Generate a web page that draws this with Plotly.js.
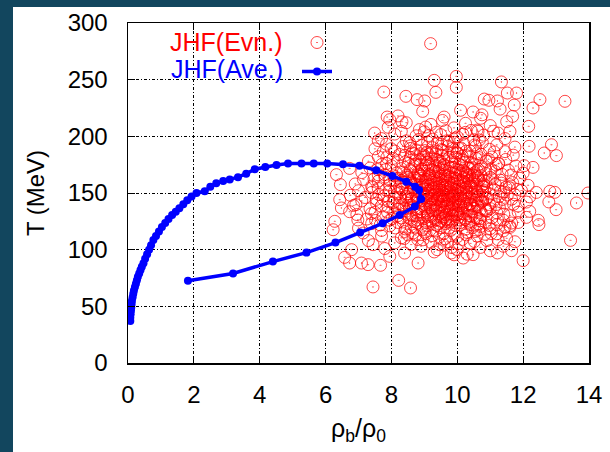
<!DOCTYPE html>
<html><head><meta charset="utf-8">
<script src="https://cdn.plot.ly/plotly-3.0.1.min.js"></script>
<style>
html,body{margin:0;padding:0;background:#12465e;width:610px;height:452px;overflow:hidden}
#chart{position:absolute;left:13px;top:7px;width:597px;height:445px;background:#fff}
</style>
</head><body><div id="chart"></div>
<script>
// Axis ticks
const xTicks = [0, 2, 4, 6, 8, 10, 12, 14];
const yTicks = [0, 50, 100, 150, 200, 250, 300];
const seriesNames = ['JHF(Evn.)', 'JHF(Ave.)'];

// JHF(Ave.) : averaged trajectory (rho_b/rho_0, T [MeV])
const aveRho = [1.82,3.19,4.40,5.42,6.30,7.05,7.73,8.25,8.71,8.90,8.84,8.72,8.45,8.03,7.54,7.03,6.53,6.05,5.64,5.27,4.86,4.51,4.17,3.85,3.59,3.34,3.09,2.89,2.68,2.50,2.33,2.08,1.93,1.80,1.68,1.56,1.45,1.34,1.23,1.13,1.03,0.94,0.85,0.77,0.70,0.64,0.58,0.52,0.47,0.42,0.38,0.34,0.30,0.27,0.24,0.21,0.18,0.16,0.14,0.12,0.11,0.10,0.09,0.08,0.07,0.07];
const aveT   = [72.5,79,89.5,97.4,106.3,115.2,123.2,130.6,138,144.6,152.6,155.5,160,165,170,174,175.3,176,176,176,176,174.7,173,171,167,164,162,160.6,158.5,155.5,151.5,150,147,143.5,140,136.5,133.5,130.5,127,123.5,120,116,112,108.5,104,100,96,92,88,85,82,79,76,73,70,67,64,61,58,55,52,49,46,43,40,37];

// JHF(Evn.) : event-by-event points, outer (individually readable) circles
const evnOuter = [
[9.19,281.8],[9.97,252.9],[9.30,249.4],[9.97,243.2],[9.35,238.8],[7.77,239.1],[8.44,235.3],[8.78,232.4],[9.01,231.2],
[11.34,248],[11.52,238.2],[11.80,238.2],[10.82,232.9],[10.96,231.8],[11.22,231.2],[11.73,227.6],[11.68,217.6],[12.51,232.4],
[12.30,225],[13.27,230.9],[10.48,221.5],[10.71,215.9],[7.87,217],[7.95,214.7],[8.32,212.9],[9.04,208.2],[12.17,208.8],
[11.60,204.4],[11.24,202.9],[7.49,202.9],[10.63,204.4],[12.86,192.6],[12.64,185.3],[13.01,183],[12.18,191.2],[12.30,172.6],
[12.03,174.1],[13.97,150],[13.62,141.2],[12.78,142.1],[13.0,135.3],[12.81,151.5],[12.96,150.6],[12.46,125.9],[12.48,122.1],
[13.44,108.2],[12.0,90.3],[11.65,99.1],[11.22,97.1],[10.48,95.6],[10.18,92.6],[9.82,97.1],[9.39,100],[8.81,88.2],
[7.67,86.2],[8.22,72.9],[7.44,67.1],[8.58,66.2],[7.29,86.8],[7.09,88.2],[6.73,88.2],[6.58,93.2],[6.79,100],[7.95,94.1],
[6.33,166.2],[6.45,157.4],[6.43,144.1],[6.48,136.8],[6.92,139.7],[6.28,125],[6.23,117.6],[11.60,119.7],[11.24,108.8],
[11.65,123.5],[12.20,133.8],[7.44,104.4],[7.14,114.7],[6.73,171.7],[6.73,133.5],[6.98,126.2]
];

// JHF(Evn.) : core, estimated band by band
const evnCoreLow = [
[7.8,101],[8.4,97],[8.9,103],[9.3,98],[9.6,104],[10.0,100],[10.3,96],[10.7,102],[11.0,99],[8.6,104.5],[9.9,95.5],[11.4,103],
[7.3,108],[7.7,112],[8.1,106],[8.5,113],[8.8,109],[9.05,114],[9.2,106.5],[9.45,111],[9.7,107],[9.9,113.5],[10.15,109],[10.4,105.5],
[10.6,112],[10.9,108],[11.2,114],[11.5,110],[8.3,110.5],[9.6,114.5],[10.05,105.5],[11.75,107],
[7.0,119],[7.4,123],[7.7,117],[7.95,121],[8.2,124],[8.4,116],[8.6,120],[8.8,123.5],[8.95,117.5],[9.1,121],[9.25,124.5],[9.35,116.5],
[9.5,119.5],[9.65,123],[9.8,117],[9.95,121.5],[10.1,124],[10.25,118],[10.4,122],[10.55,116],[10.7,120.5],[10.85,124.5],[11.0,118.5],
[11.2,122],[11.4,116.5],[11.6,121],[11.85,124],[9.0,115.5],[9.7,125],[10.3,115.2],
[6.95,131],[7.25,127],[7.5,133],[7.75,129],[7.95,126],[8.1,132.5],[8.3,128],[8.45,134],[8.6,126.5],[8.75,130.5],[8.9,133.5],[9.0,127.5],
[9.12,131],[9.25,134.5],[9.35,126],[9.45,129.5],[9.55,133],[9.65,127],[9.75,131.5],[9.85,125.5],[9.95,134],[10.05,128.5],[10.15,132],
[10.25,126.5],[10.35,130],[10.45,133.5],[10.6,127.5],[10.75,131],[10.9,134.5],[11.05,128],[11.2,132.5],[11.4,126],[11.6,130],[11.85,133],
[12.1,128.5],[8.2,130],[9.5,125.3],[10.0,130.8],[10.7,125.5],[9.2,129]
];
const evnCoreMid = [
[6.85,139],[7.1,143],[7.35,136],[7.55,141],[7.75,144.5],[7.9,137.5],[8.05,141.5],[8.2,135.5],[8.32,139.5],[8.45,143.5],[8.55,137],[8.68,141],
[8.8,144],[8.9,136],[9.0,140],[9.08,143.5],[9.17,137.5],[9.26,141.5],[9.35,135.2],[9.43,139],[9.52,142.5],[9.6,136.5],[9.68,140.5],[9.77,144.5],
[9.85,137.5],[9.93,141.5],[10.02,135.5],[10.1,139.5],[10.2,143],[10.3,136.5],[10.4,140.5],[10.5,144],[10.62,138],[10.74,142],[10.86,135.8],
[10.98,139.8],[11.12,143.5],[11.28,137],[11.45,141],[11.65,144.5],[11.85,138.5],[12.1,142],[8.6,144.8],[9.4,144.2],[10.25,138.2],[11.0,136.2],
[9.7,138.3],[8.1,138.8],
[6.75,148],[7.0,152],[7.2,146],[7.4,150.5],[7.6,154],[7.78,147.5],[7.93,151.5],[8.08,145.5],[8.2,149.5],[8.33,153.5],[8.45,147],[8.57,151],
[8.68,154.5],[8.78,146],[8.88,150],[8.97,153.5],[9.06,147.5],[9.14,151.5],[9.22,145.3],[9.3,149],[9.38,152.8],[9.46,146.5],[9.54,150.5],
[9.62,154.2],[9.7,148],[9.78,151.8],[9.86,145.8],[9.94,149.6],[10.02,153.4],[10.1,147.2],[10.18,151],[10.27,154.8],[10.36,146.4],[10.45,150.2],
[10.55,153.8],[10.65,147.6],[10.76,151.4],[10.88,145.2],[11.0,149.2],[11.13,153],[11.27,146.8],[11.42,150.8],[11.58,154.6],[11.75,148.4],
[11.95,152.2],[12.2,146.6],[12.4,150.5],[8.5,149.2],[9.25,154.6],[9.9,146.9],[10.6,150.9],[9.5,148.3],
[6.9,158],[7.15,162],[7.4,156],[7.6,160.5],[7.8,164],[7.95,157.5],[8.1,161.5],[8.25,155.5],[8.38,159.5],[8.5,163.5],[8.62,157],[8.73,161],
[8.84,164.5],[8.94,156],[9.03,160],[9.12,163.5],[9.2,157.5],[9.29,161.5],[9.38,155.3],[9.47,159],[9.56,162.8],[9.65,156.5],[9.74,160.5],
[9.83,164.2],[9.92,158],[10.01,161.8],[10.1,155.8],[10.2,159.6],[10.3,163.4],[10.4,157.2],[10.5,161],[10.62,164.8],[10.74,156.4],[10.87,160.2],
[11.0,163.8],[11.15,157.6],[11.3,161.4],[11.48,155.2],[11.68,159.2],[11.9,163],[12.15,156.8],[8.3,160.8],[9.1,156.4],[9.8,157.2],[10.45,164.2],
[9.5,164.6],[10.9,155.6],[9.35,160.4]
];
const evnCoreHigh = [
[7.1,168],[7.35,172],[7.6,166],[7.82,170.5],[8.0,174],[8.15,167.5],[8.3,171.5],[8.45,165.5],[8.58,169.5],[8.7,173.5],[8.82,167],[8.93,171],
[9.04,174.5],[9.14,166],[9.24,170],[9.34,173.5],[9.44,167.5],[9.54,171.5],[9.64,165.3],[9.74,169],[9.84,172.8],[9.94,166.5],[10.04,170.5],
[10.14,174.2],[10.25,168],[10.36,171.8],[10.48,165.8],[10.6,169.6],[10.73,173.4],[10.87,167.2],[11.02,171],[11.18,174.8],[11.36,166.4],
[11.55,170.2],[11.78,173.8],[12.0,167.6],[8.9,165.2],[9.6,174.6],[10.3,165.4],[9.0,169.2],
[7.3,178],[7.6,182],[7.85,176],[8.05,180.5],[8.25,184],[8.42,177.5],[8.58,181.5],[8.72,175.5],[8.86,179.5],[8.98,183.5],[9.1,177],[9.22,181],
[9.34,184.5],[9.46,176],[9.58,180],[9.7,183.5],[9.82,177.5],[9.94,181.5],[10.06,175.3],[10.18,179],[10.3,182.8],[10.43,176.5],[10.57,180.5],
[10.72,184.2],[10.88,178],[11.05,181.8],[11.25,175.8],[11.47,179.6],[11.7,183.4],[9.4,179.2],[8.7,184.6],[10.0,185],
[7.5,189],[7.85,193],[8.1,187],[8.35,191],[8.55,194.5],[8.75,188],[8.92,192],[9.08,186],[9.24,190],[9.4,194],[9.56,187.5],[9.72,191.5],
[9.88,185.5],[10.04,189.5],[10.2,193.5],[10.38,187],[10.56,191],[10.76,194.5],[10.98,188.5],[11.2,192.5],[11.45,186.5],[11.75,190.5],[9.1,195],[9.9,194.8],
[7.7,198],[8.1,202],[8.45,196],[8.75,200.5],[9.0,204],[9.25,197.5],[9.5,201.5],[9.75,195.5],[10.0,199.5],[10.25,203.5],[10.5,197],[10.8,201],
[11.1,204.5],[11.45,198],[8.3,204.5],[9.65,205],
[7.9,208],[8.45,212],[8.85,206],[9.2,210.5],[9.55,214],[9.9,207.5],[10.25,211.5],[10.6,205.5],[11.0,209.5],[11.5,213],
[8.2,218],[8.95,222],[9.6,217],[10.1,223],[10.75,219],[11.3,224]
];
// JHF(Evn.) : saturated centre of the cloud
const evnCoreDense = [
[8.42,118.3],[9.71,146.2],[10.33,171.6],[8.97,128.9],[9.18,162.7],[10.61,139.4],[9.54,183.1],[8.66,152.8],[10.08,121.7],[9.87,158.4],
[8.51,176.2],[10.44,148.9],[9.33,134.6],[10.72,165.3],[9.02,187.4],[8.83,141.7],[9.66,126.3],[10.19,154.2],[9.41,168.8],[8.71,119.9],
[10.55,128.4],[9.12,149.6],[9.93,177.3],[8.38,136.1],[10.27,186.9],[9.58,142.8],[8.92,171.4],[10.83,152.1],[9.27,117.2],[10.04,138.7],
[9.79,163.9],[8.59,158.6],[10.46,119.4],[9.36,179.7],[8.99,146.3],[10.66,181.2],[9.49,131.8],[10.12,167.1],[8.77,132.4],[9.84,189.2],
[10.31,144.5],[9.07,123.8],[9.63,170.4],[8.46,164.1],[10.58,157.8],[9.21,140.3],[9.96,129.2],[8.87,184.6],[10.39,133.7],[9.45,155.9],
[10.77,142.9],[9.15,174.8],[8.62,145.1],[10.01,147.8],[9.74,119.1],[8.94,160.5],[10.24,126.8],[9.52,188.3],[8.55,127.6],[10.49,175.6],
[9.31,151.4],[9.89,135.3],[8.81,168.2],[10.15,182.4],[9.68,153.3],[10.69,134.8],[9.04,135.9],[9.43,123.1],[10.36,160.7],[8.74,178.9],
[9.97,143.2],[10.52,167.9],[9.24,186.1],[8.49,149.4],[9.81,124.6],[10.09,161.3],[9.39,145.7],[8.68,137.8],[10.63,122.9],[9.59,175.2],
[9.11,157.3],[10.28,139.9],[8.91,120.7],[9.76,181.5],[10.42,154.8],[9.29,128.2],[8.57,170.6],[10.02,132.1],[9.65,161.8],[10.74,148.3],
[9.06,179.4],[9.92,152.9],[8.79,126.1],[10.21,176.8],[9.47,137.4],[8.44,159.7],[10.57,143.6],[9.16,166.4],[9.85,141.1],[10.11,189.7],
[9.34,158.2],[8.96,149.8],[10.34,124.3],[9.62,133.9],[8.63,185.3],[10.47,158.9],[9.22,144.1],[9.78,172.2],[10.06,155.6],[8.85,155.1],
[9.55,160.1],[10.18,131.5],[9.01,153.7],[9.73,138.9],[10.4,181.9],[8.69,163.4],[9.37,121.6],[9.95,168.3],[10.3,150.6],[9.09,132.7],
[9.48,178.1],[10.64,170.9],[8.76,147.2],[9.86,130.4],[10.23,145.3],[9.27,172.9],[9.61,149.1],[8.53,141.3],[10.13,137.2],[9.44,163.2],
[10.8,158.1],[9.19,125.4],[9.99,185.8],[8.88,175.3],[10.37,165.6],[9.57,127.8],[9.14,145.9],[9.8,155.2],[10.51,136.3],[8.98,181.7],
[9.68,143.6],[10.26,159.1],[9.05,162.1],[9.42,148.7],[10.07,126.1],[8.82,136.6],[9.9,172.6],[10.6,151.7],[9.32,139.5],[9.7,158.9],
[10.17,170.2],[8.6,130.7],[9.52,152.4],[10.43,129.6],[9.13,183.9],[9.83,147.3],[10.29,152.3],[8.93,143.3],[9.63,166.9],[10.05,142.5],
[9.38,186.7],[8.72,157.9],[9.98,160.2],[10.5,146.7],[9.25,153.1],[9.77,134.1],[10.2,163.7],[9.03,148.4],[9.5,139.8],[10.66,161.5],
[8.86,166.7],[9.46,171.8],[10.0,151.1],[9.2,137.1],[9.74,150.3],[10.32,135.1],[8.95,156.9],[9.6,144.9],[10.1,149.2],[9.35,164.8],
[9.88,139.7],[10.45,172.3],[9.1,170.1],[9.66,130.9],[10.25,148.1],[8.8,151.5],[9.55,156.7],[9.93,163.1],[10.38,140.6],[9.28,147.6]
];
// JHF(Evn.) : ring around the centre (left/right flanks, top/bottom)
const evnCoreRing = [
[7.62,148.7],[8.14,156.3],[7.88,133.2],[8.36,168.4],[7.47,162.3],[8.02,127.4],[8.61,139.2],[7.71,175.3],[8.27,146.1],[7.95,160.8],
[8.48,131.1],[7.54,144.4],[8.19,178.6],[7.83,152.7],[8.7,124.9],[7.39,131.9],[8.07,165.2],[8.41,183.2],[7.66,121.8],[8.31,153.1],
[7.92,142.6],[8.53,161.7],[7.75,186.4],[8.12,119.2],[7.58,170.7],[8.24,140.7],[7.99,189.1],[8.65,114.6],[7.43,154.9],[8.35,124.4],
[7.8,166.2],[8.46,145.8],[7.69,138.4],[8.09,150.9],[8.58,191.6],[7.52,125.8],[8.2,163.1],[7.86,181.3],[8.39,109.8],[7.6,196.2],
[10.92,146.1],[11.34,158.7],[10.68,127.3],[11.18,139.8],[10.85,171.3],[11.52,148.2],[10.59,184.6],[11.07,162.4],[11.41,131.4],[10.79,155.7],
[11.26,176.2],[10.97,121.4],[11.63,165.9],[10.71,143.8],[11.12,186.3],[11.45,119.7],[10.88,133.9],[11.31,151.6],[10.62,163.2],[11.71,140.1],
[10.95,179.8],[11.22,126.2],[10.53,192.4],[11.58,157.4],[11.03,114.2],[10.81,160.9],[11.38,144.3],[10.66,117.8],[11.15,168.9],[11.82,153.2],
[8.83,197.3],[9.37,203.6],[9.94,198.4],[10.42,205.2],[9.13,200.7],[9.69,196.1],[10.17,201.9],[8.58,189.2],[9.52,193.1],[10.67,196.8],
[8.96,108.7],[9.47,104.3],[10.01,111.6],[10.52,107.2],[9.23,112.4],[9.83,101.9],[10.28,113.1],[8.74,112.9],[9.63,109.6],[10.84,113.6],
[9.17,142.4],[9.63,137.7],[10.09,144.9],[9.46,152.6],[9.89,148.9],[10.35,156.2],[9.26,159.3],[9.72,165.4],[10.19,160.4],[9.58,129.1],
[9.04,139.3],[10.46,139.1],[9.33,169.1],[9.97,170.8],[10.61,146.1],[8.9,162.8],[9.8,126.7],[10.26,167.5],[9.1,129.6],[9.55,147.4]
];

const evnAll = evnOuter.concat(evnCoreLow, evnCoreMid, evnCoreHigh, evnCoreDense, evnCoreRing);
const evnRho = evnAll.map(p => p[0]);
const evnT = evnAll.map(p => p[1]);

const FONT = 'Liberation Sans, Arial, Helvetica, sans-serif';

const traces = [
  {
    x: evnRho, y: evnT, type: 'scatter', mode: 'markers', name: '\u00a0',
    marker: {symbol: 'circle-open-dot', size: 12, color: 'rgba(255,0,0,0.72)', line: {width: 1, color: 'rgba(255,0,0,0.72)'}},
    hoverinfo: 'skip'
  },
  {
    x: aveRho, y: aveT, type: 'scatter', mode: 'lines+markers', name: '\u00a0',
    line: {color: '#0000ff', width: 3.5},
    marker: {symbol: 'circle', size: 8, color: '#0000ff'},
    hoverinfo: 'skip'
  }
];

const axisCommon = {
  ticks: 'inside', ticklen: 7, tickwidth: 1, tickcolor: '#000',
  showline: true, linecolor: '#000', linewidth: 1.5, mirror: 'ticks',
  showgrid: true, gridcolor: '#000', gridwidth: 1, griddash: '3px,2px,1px,2px',
  zeroline: false, tickfont: {family: FONT, size: 24, color: '#000'}
};

const layout = {
  width: 597, height: 445,
  margin: {l: 115, r: 21, t: 16, b: 89},
  paper_bgcolor: '#ffffff', plot_bgcolor: '#ffffff',
  font: {family: FONT, color: '#000'},
  showlegend: true,
  legend: {x: 0.3666, y: 1.0, xanchor: 'left', yanchor: 'top', bgcolor: 'rgba(0,0,0,0)',
           font: {family: FONT, size: 20}, itemwidth: 30, tracegroupgap: 0},
  xaxis: Object.assign({}, axisCommon, {
    range: [0, 14], tickvals: xTicks, ticktext: xTicks.map(String), ticklabelstandoff: 10,
    title: {text: 'ρ<sub>b</sub>/ρ<sub>0</sub>', font: {family: FONT, size: 25, color: '#000'}, standoff: 12}
  }),
  yaxis: Object.assign({}, axisCommon, {
    range: [0, 300], tickvals: yTicks, ticktext: yTicks.map(String), ticklabelstandoff: 14,
    title: {text: 'T (MeV)', font: {family: FONT, size: 24, color: '#000'}, standoff: 16}
  }),
  annotations: [
    {xref: 'paper', yref: 'paper', x: 0.3406, y: 0.943, xanchor: 'right', yanchor: 'middle', showarrow: false,
     text: seriesNames[0], font: {family: FONT, size: 25, color: '#ff0000'}},
    {xref: 'paper', yref: 'paper', x: 0.3406, y: 0.864, xanchor: 'right', yanchor: 'middle', showarrow: false,
     text: seriesNames[1], font: {family: FONT, size: 25, color: '#0000ff'}}
  ]
};

Plotly.newPlot('chart', traces, layout, {displayModeBar: false, staticPlot: true});
</script></body></html>
